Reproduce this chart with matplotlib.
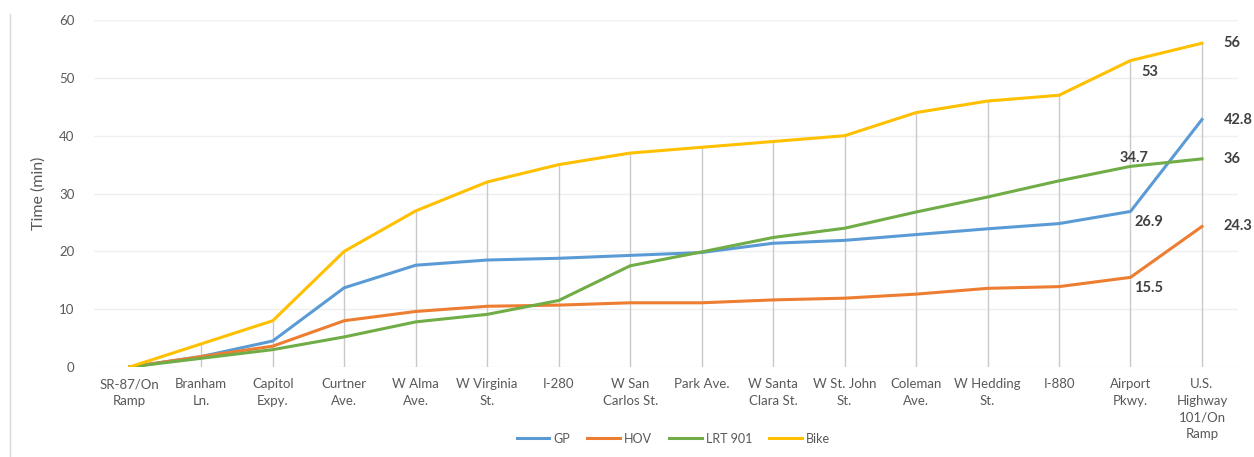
import numpy as np
import matplotlib.pyplot as plt
from matplotlib.lines import Line2D

plt.rcParams['font.family'] = ['Lato', 'DejaVu Sans']

stops = ['SR-87/On\nRamp', 'Branham\nLn.', 'Capitol\nExpy.', 'Curtner\nAve.', 'W Alma\nAve.',
         'W Virginia\nSt.', 'I-280', 'W San\nCarlos St.', 'Park Ave.', 'W Santa\nClara St.',
         'W St. John\nSt.', 'Coleman\nAve.', 'W Hedding\nSt.', 'I-880', 'Airport\nPkwy.',
         'U.S.\nHighway\n101/On\nRamp']

gp = [0, 1.8, 4.5, 13.7, 17.6, 18.5, 18.8, 19.3, 19.8, 21.4, 21.9, 22.9, 23.9, 24.8, 26.9, 42.8]
hov = [0, 1.8, 3.6, 8.0, 9.6, 10.5, 10.7, 11.1, 11.1, 11.6, 11.9, 12.6, 13.6, 13.9, 15.5, 24.3]
lrt = [0, 1.5, 3.0, 5.2, 7.8, 9.1, 11.5, 17.5, 19.9, 22.4, 24.0, 26.8, 29.4, 32.2, 34.7, 36]
bike = [0, 4, 8, 20, 27, 32, 35, 37, 38, 39, 40, 44, 46, 47, 53, 56]

series = [('GP', gp, '#5B9BD5'), ('HOV', hov, '#ED7D31'),
          ('LRT 901', lrt, '#70AD47'), ('Bike', bike, '#FFC000')]

fig = plt.figure(figsize=(12.54, 4.57), dpi=100)
ax = fig.add_axes([0.075, 0.197, 0.912, 0.759])

x = np.arange(len(stops))

# drop lines from the top series down to zero
ax.vlines(x, 0, bike, color='#C9C9C9', lw=1, zorder=1)
for v in range(0, 61, 10):
    ax.axhline(v, color='#EFEFEF', lw=1, zorder=0)

for name, vals, col in series:
    ax.plot(x, vals, color=col, lw=2.2, label=name, zorder=3)

lab = dict(fontsize=10.5, fontweight='bold', color='#404040', zorder=4)
# airport labels
ax.text(x[14] + 0.15, bike[14] - 0.8, f'{bike[14]:g}', ha='left', va='top', **lab)
ax.text(x[14] - 0.15, lrt[14] + 0.3, f'{lrt[14]:g}', ha='left', va='bottom', **lab)
ax.text(x[14] + 0.05, gp[14] - 0.6, f'{gp[14]:g}', ha='left', va='top', **lab)
ax.text(x[14] + 0.05, hov[14] - 0.6, f'{hov[14]:g}', ha='left', va='top', **lab)
# end labels
for name, vals, col in series:
    ax.text(x[15] + 0.3, vals[15], f'{vals[15]:g}', ha='left', va='center', clip_on=False, **lab)

ax.set_xlim(-0.5, len(stops) - 0.5)
ax.set_ylim(0, 60)
ax.set_yticks(range(0, 61, 10))
ax.set_xticks(x)
ax.set_xticklabels(stops, fontsize=9.5, color='#595959', linespacing=1.45)
ax.tick_params(axis='y', labelsize=9.5, labelcolor='#595959', length=0, pad=14)
ax.tick_params(axis='x', length=0, pad=8)
ax.set_ylabel('Time (min)', fontsize=11.5, color='#595959', labelpad=10)
for s in ax.spines.values():
    s.set_visible(False)

handles = [Line2D([], [], color=c, lw=2.2) for _, _, c in series]
fig.legend(handles, [n for n, _, _ in series], loc='center', bbox_to_anchor=(0.537, 0.04),
           ncol=4, frameon=False, fontsize=9, labelcolor='#595959',
           handlelength=2.6, handletextpad=0.3, columnspacing=1.4)

fig.add_artist(Line2D([0.008, 0.008], [0, 0.97], color='#D9D9D9', lw=1, transform=fig.transFigure))

fig.savefig('out.png', dpi=100)
